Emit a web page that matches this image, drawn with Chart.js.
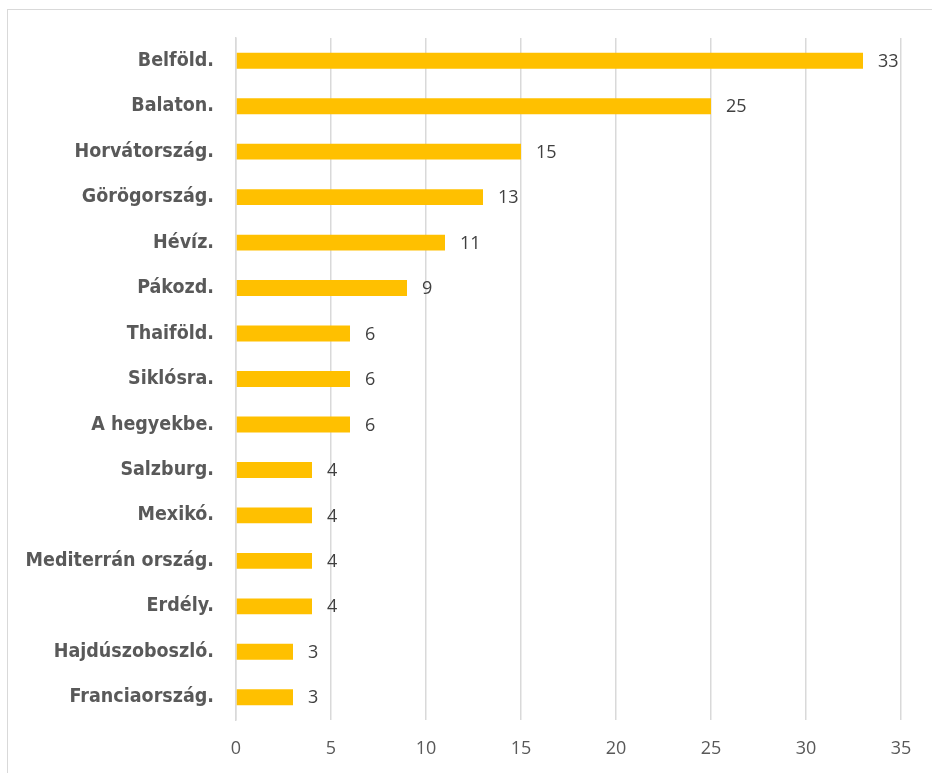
<!DOCTYPE html>
<html>
<head>
<meta charset="utf-8">
<script src="https://cdn.jsdelivr.net/npm/chart.js@4"></script>
<style>
  html, body { margin: 0; padding: 0; background: #fff; }
  #wrap { position: relative; width: 932px; height: 773px; overflow: hidden; }
  #frame { position: absolute; left: 7px; top: 9px; width: 940px; height: 790px; border: 1px solid #d9d9d9; box-sizing: border-box; }
  canvas { position: absolute; left: 0; top: 0; }
</style>
</head>
<body>
<div id="wrap">
  <div id="frame"></div>
  <canvas id="barChart" width="932" height="773"></canvas>
</div>
<script>
var places = [
  'Belföld.', 'Balaton.', 'Horvátország.', 'Görögország.', 'Hévíz.',
  'Pákozd.', 'Thaiföld.', 'Siklósra.', 'A hegyekbe.', 'Salzburg.',
  'Mexikó.', 'Mediterrán ország.', 'Erdély.', 'Hajdúszoboszló.', 'Franciaország.'
];
var counts = [33, 25, 15, 13, 11, 9, 6, 6, 6, 4, 4, 4, 4, 3, 3];
var xTicks = [0, 5, 10, 15, 20, 25, 30, 35];

// value labels at the end of each bar
var barLabels = {
  id: 'barLabels',
  afterDatasetsDraw: function(chart) {
    var ctx = chart.ctx;
    var meta = chart.getDatasetMeta(0);
    ctx.save();
    ctx.font = '18px "Open Sans", sans-serif';
    ctx.fillStyle = '#404040';
    ctx.textAlign = 'left';
    ctx.textBaseline = 'middle';
    meta.data.forEach(function(bar, i) {
      ctx.fillText(counts[i], bar.x + 15, bar.y + 1);
    });
    ctx.restore();
  }
};

var ctx = document.getElementById('barChart').getContext('2d');
var myChart = new Chart(ctx, {
  type: 'bar',
  data: {
    labels: places,
    datasets: [{
      data: counts,
      backgroundColor: '#FFC000',
      barPercentage: 0.7,
      categoryPercentage: 0.5
    }]
  },
  plugins: [barLabels],
  options: {
    indexAxis: 'y',
    responsive: false,
    animation: false,
    layout: { padding: { top: 38, right: 31, left: 0, bottom: 0 } },
    plugins: {
      legend: { display: false },
      tooltip: { enabled: false }
    },
    scales: {
      x: {
        min: 0,
        max: 35,
        afterBuildTicks: function(scale) {
          scale.ticks = xTicks.map(function(v) { return { value: v }; });
        },
        afterFit: function(scale) { scale.height = 53; },
        grid: { color: '#d9d9d9', lineWidth: 1.5, drawTicks: false },
        border: { display: false },
        ticks: {
          padding: 18,
          color: '#595959',
          font: { family: '"Open Sans", sans-serif', size: 18 }
        }
      },
      y: {
        afterFit: function(scale) { scale.width = 236; },
        grid: { display: false, drawTicks: false },
        border: { display: true, color: '#d9d9d9', width: 1.5 },
        ticks: {
          padding: 22,
          color: '#595959',
          font: { family: '"Liberation Sans Narrow", "DejaVu Sans Condensed", sans-serif', size: 19.5, weight: 'bold' }
        }
      }
    }
  }
});
</script>
</body>
</html>
